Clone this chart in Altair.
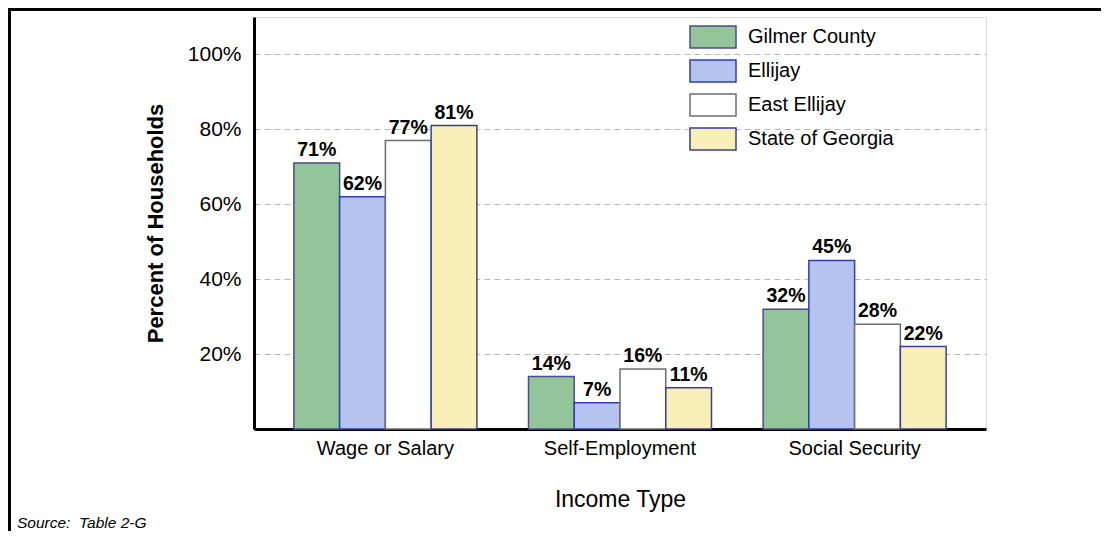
import altair as alt
import pandas as pd

categories = ["Wage or Salary", "Self-Employment", "Social Security"]
series = ["Gilmer County", "Ellijay", "East Ellijay", "State of Georgia"]
gilmer = [71, 14, 32]
ellijay = [62, 7, 45]
east_ellijay = [77, 16, 28]
georgia = [81, 11, 22]
y_ticks = [20, 40, 60, 80, 100]
source_note = "Source:\u00a0 Table 2-G"

fills = ["#93c49a", "#b6c3ee", "#ffffff", "#f9f0b9"]
strokes = ["#4b4b8f", "#2c3fae", "#6e6e6e", "#3d3d8f"]

rows = []
for s, vals in zip(series, [gilmer, ellijay, east_ellijay, georgia]):
    for c, v in zip(categories, vals):
        rows.append({"category": c, "series": s, "value": v, "label": f"{v}%"})
df = pd.DataFrame(rows)

FONT = "Liberation Sans"
W, H = 732, 412

x = alt.X(
    "category:N", sort=categories, title="Income Type",
    scale=alt.Scale(paddingInner=0.22, paddingOuter=0.17),
    axis=alt.Axis(labelAngle=0, labelFontSize=20, labelFont=FONT, labelColor="#000",
                  labelPadding=9, ticks=False, domainColor="#000", domainWidth=3,
                  titleFontSize=23, titleFont=FONT, titleFontWeight="normal",
                  titleColor="#000", titlePadding=30, grid=False),
)
xo = alt.XOffset("series:N", sort=series, scale=alt.Scale(paddingInner=0, paddingOuter=0))
y = alt.Y(
    "value:Q", title="Percent of Households",
    scale=alt.Scale(domain=[0, 110], nice=False),
    axis=alt.Axis(values=y_ticks, labelExpr="datum.value + '%'", labelFontSize=21,
                  labelFont=FONT, labelColor="#000", labelPadding=13, ticks=False,
                  domainColor="#000", domainWidth=3, grid=True, gridDash=[6, 4],
                  gridColor="#b8b8b8", gridWidth=1, titleFontSize=22, titleFont=FONT,
                  titleFontWeight="bold", titleColor="#000", titlePadding=20),
)

base = alt.Chart(df)

bars = base.mark_bar(strokeWidth=1.5).encode(
    x=x, xOffset=xo, y=y,
    color=alt.Color(
        "series:N", sort=series,
        scale=alt.Scale(domain=series, range=fills),
        legend=alt.Legend(title=None, orient="none", legendX=441, legendY=2,
                          symbolType="M-1.353,-0.647H1.353V0.647H-1.353Z",
                          symbolSize=1156, symbolStrokeWidth=1.5,
                          symbolStrokeColor="#4a4a7a", symbolOpacity=1,
                          labelFont=FONT, labelFontSize=20, labelColor="#000",
                          labelOffset=17, rowPadding=2, padding=0),
    ),
    stroke=alt.Stroke("series:N", sort=series,
                      scale=alt.Scale(domain=series, range=strokes), legend=None),
)

labels = base.mark_text(fontWeight="bold", fontSize=19.5, baseline="bottom", dy=-3,
                        font=FONT, color="#000").encode(
    x=x, xOffset=xo, y=y, text="label:N"
)

top_border = alt.Chart(alt.Data(values=[{}])).mark_rule(color="#000", strokeWidth=3).encode(
    x=alt.value(-246), x2=alt.value(847), y=alt.value(-7.5)
)
left_border = alt.Chart(alt.Data(values=[{}])).mark_rule(color="#000", strokeWidth=3).encode(
    x=alt.value(-244.5), y=alt.value(-9), y2=alt.value(514)
)
source = alt.Chart(alt.Data(values=[{"t": source_note}])).mark_text(
    align="left", baseline="middle", fontStyle="italic", fontSize=15.5, font=FONT, color="#000"
).encode(x=alt.value(-237), y=alt.value(506), text="t:N")

chart = alt.layer(bars, labels, top_border, left_border, source).properties(
    width=W, height=H,
    autosize=alt.AutoSizeParams(type="none"),
    padding={"left": 246, "top": 9, "right": 115, "bottom": 102},
).configure_view(stroke=None).configure(background="#ffffff")

chart.save("out.html", embed_options={"renderer": "svg", "actions": False})
